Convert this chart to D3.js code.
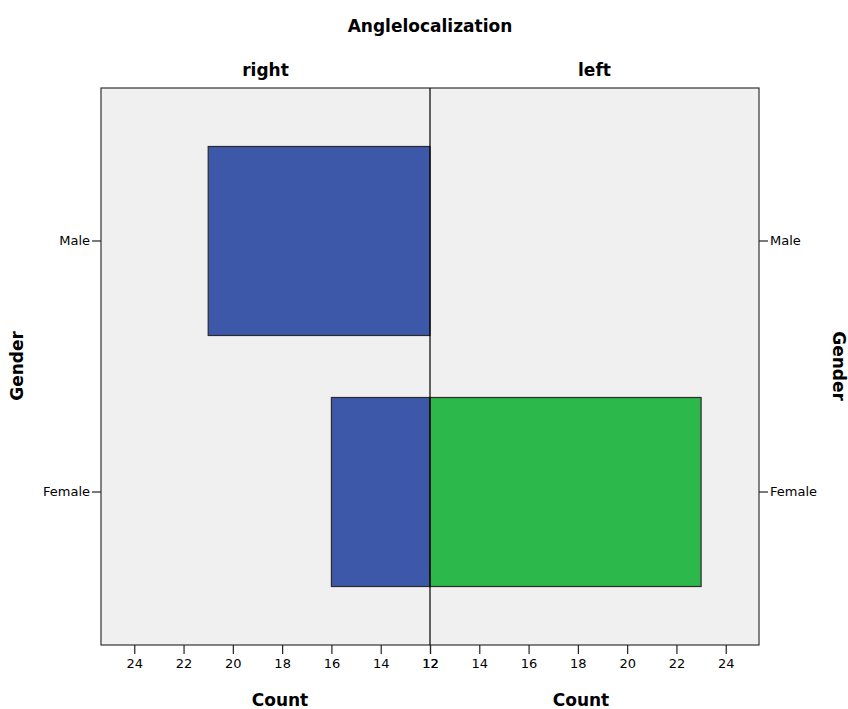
<!DOCTYPE html>
<html>
<head>
<meta charset="utf-8">
<script src="https://cdn.jsdelivr.net/npm/d3@7"></script>
<style>
  body { margin: 0; background: #fff; }
  text { fill: #000; }
  .small { font-family: "DejaVu Sans", sans-serif; }
  .big { font-family: "DejaVu Sans", sans-serif; font-weight: bold; font-size: 17px; }
</style>
</head>
<body>
<script>
// pyramid data: count per gender for each angle side
var genders = ["Male", "Female"];
var sides = ["right", "left"];
var rightCounts = [21, 16];
var leftCounts = [12, 23];
var xTicks = [12, 14, 16, 18, 20, 22, 24];

var W = 848, H = 709;
var frame = { left: 101, right: 759, top: 88, bottom: 645 };
var mid = 430;
var maxX = 25.35;

var svg = d3.select('body').append('svg')
  .attr('width', W)
  .attr('height', H);

// scales
var y = d3.scaleBand()
  .domain(genders)
  .range([frame.top, frame.bottom])
  .paddingInner(0.247)
  .paddingOuter(0.233);

var xRight = d3.scaleLinear().domain([12, maxX]).range([mid, frame.left]);
var xLeft = d3.scaleLinear().domain([12, maxX]).range([mid, frame.right]);

// panel background
svg.append('rect')
  .attr('x', frame.left).attr('y', frame.top)
  .attr('width', frame.right - frame.left)
  .attr('height', frame.bottom - frame.top)
  .attr('fill', '#f0f0f0')
  .attr('stroke', '#333')
  .attr('stroke-width', 1.2);

//bars for "right" side (blue)
svg.selectAll('rect.r')
  .data(genders.map(function(g, i) { return { g: g, v: rightCounts[i] }; }))
  .enter().append('rect')
  .attr('class', 'r')
  .attr('x', function(d) { return xRight(d.v); })
  .attr('y', function(d) { return y(d.g); })
  .attr('width', function(d) { return xRight(12) - xRight(d.v); })
  .attr('height', y.bandwidth())
  .attr('fill', '#3d58a9')
  .attr('stroke', '#2b2b2b')
  .attr('stroke-width', 1.2);

//bars for "left" side (green)
svg.selectAll('rect.l')
  .data(genders.map(function(g, i) { return { g: g, v: leftCounts[i] }; }))
  .enter().append('rect')
  .attr('class', 'l')
  .attr('x', mid)
  .attr('y', function(d) { return y(d.g); })
  .attr('width', function(d) { return xLeft(d.v) - xLeft(12); })
  .attr('height', y.bandwidth())
  .attr('fill', '#2db84b')
  .attr('stroke', '#2b2b2b')
  .attr('stroke-width', function(d) { return d.v > 12 ? 1.2 : 0; });

// divider
svg.append('line')
  .attr('x1', mid).attr('x2', mid)
  .attr('y1', frame.top).attr('y2', frame.bottom)
  .attr('stroke', '#000').attr('stroke-width', 1.2);

// x axes
var axR = d3.axisBottom(xRight).tickValues(xTicks).tickSize(9).tickPadding(5);
var axL = d3.axisBottom(xLeft).tickValues(xTicks).tickSize(9).tickPadding(5);
[axR, axL].forEach(function(ax) {
  var g = svg.append('g')
    .attr('transform', 'translate(0,' + frame.bottom + ')')
    .call(ax);
  g.select('.domain').remove();
  g.selectAll('line').attr('stroke', '#222').attr('stroke-width', 1.2);
  g.selectAll('text').attr('class', 'small').style('font-size', '13px');
});

// y axes
var gyl = svg.append('g')
  .attr('transform', 'translate(' + frame.left + ',0)')
  .call(d3.axisLeft(y).tickSize(9).tickPadding(2));
var gyr = svg.append('g')
  .attr('transform', 'translate(' + frame.right + ',0)')
  .call(d3.axisRight(y).tickSize(9).tickPadding(2));
[gyl, gyr].forEach(function(g) {
  g.select('.domain').remove();
  g.selectAll('line').attr('stroke', '#222').attr('stroke-width', 1.2);
  g.selectAll('text').attr('class', 'small').style('font-size', '13px');
});

// titles
svg.append('text')
  .attr('class', 'big')
  .attr('x', mid).attr('y', 32)
  .attr('text-anchor', 'middle')
  .text('Anglelocalization');

svg.selectAll('text.side')
  .data(sides)
  .enter().append('text')
  .attr('class', 'big side')
  .attr('x', function(d, i) { return i === 0 ? (frame.left + mid) / 2 : (mid + frame.right) / 2; })
  .attr('y', 76)
  .attr('text-anchor', 'middle')
  .text(function(d) { return d; });

svg.selectAll('text.count')
  .data([mid - 150, mid + 151])
  .enter().append('text')
  .attr('class', 'big count')
  .attr('x', function(d) { return d; })
  .attr('y', 706)
  .attr('text-anchor', 'middle')
  .text('Count');

svg.append('text')
  .attr('class', 'big')
  .attr('transform', 'translate(23,366) rotate(-90)')
  .attr('text-anchor', 'middle')
  .text('Gender');

svg.append('text')
  .attr('class', 'big')
  .attr('transform', 'translate(833,366) rotate(90)')
  .attr('text-anchor', 'middle')
  .text('Gender');
</script>
</body>
</html>
